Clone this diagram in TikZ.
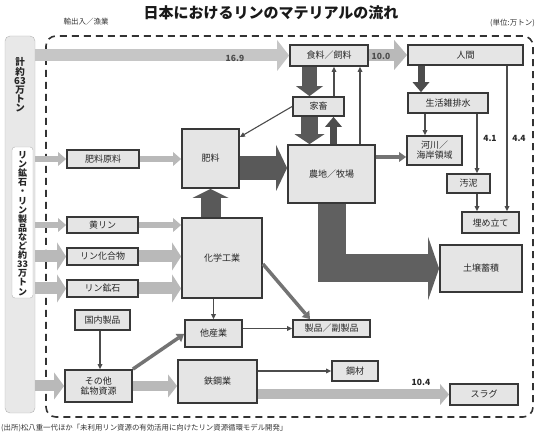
\documentclass[tikz,border=0pt]{standalone}
\usepackage{fontspec}
\newfontfamily\cjk{Noto Sans CJK JP}
\usetikzlibrary{arrows.meta}
\tikzset{
  box/.style={draw=black!78, line width=1.8pt, fill=gray!20, inner sep=0pt, align=center,
    font=\cjk\fontsize{9}{10}\selectfont, text=black!85},
  thinarrow/.style={draw=black!70, line width=1.1pt, -{Triangle[length=5pt,width=5pt,line width=0pt]}},
  medarrow/.style={draw=black!55, line width=3.5pt, -{Triangle[length=7pt,width=10pt,line width=0pt]}},
  barrow/.style n args={4}{draw=#4, line width=#1, line join=miter,
    -{Triangle[length=#3,width=#2,line width=0pt]}},
  num/.style={font=\cjk\bfseries\fontsize{8.5}{9}\selectfont, text=black!85, inner sep=0pt},
  vtext/.style={align=center, inner sep=0pt, text=black!85},
  small/.style={font=\cjk\fontsize{7.5}{8}\selectfont, text=black!80, inner sep=0pt}
}
\begin{document}
\begin{tikzpicture}[x=1pt,y=-1pt]
\useasboundingbox (0,0) rectangle (539,435);

% title and notes
\node[font=\cjk\bfseries\fontsize{15}{15}\selectfont, text=black!90] (title) at (271,13) {日本におけるリンのマテリアルの流れ};
\node[small] (trade) at (86,22) {輸出入／漁業};
\node[small, anchor=east] (unit) at (535,23) {(単位:万トン)};
\node[font=\cjk\fontsize{7.4}{8}\selectfont, text=black!80, inner sep=0pt, anchor=west] (source) at (1,428) {(出所)松八重一代ほか「未利用リン資源の有効活用に向けたリン資源循環モデル開発」};

% dashed system border
\draw[black!80, line width=1.6pt, dash pattern=on 7pt off 5pt, rounded corners=10pt] (46,36) rectangle (533,417);

% left source boxes
\node[draw=gray!60, fill=gray!18, rounded corners=5pt, minimum width=30pt, minimum height=377pt, inner sep=0pt] (src) at (20,224.5) {};
\node[draw=gray!60, fill=white, rounded corners=3pt, minimum width=21pt, minimum height=151pt, inner sep=0pt] (srcin) at (22.5,222.5) {};
\node[vtext, font=\cjk\bfseries\fontsize{9.5}{9}\selectfont] (total) at (20,85) {計\\約\\63\\万\\ト\\ン};
\node[vtext, font=\cjk\bfseries\fontsize{9}{9.1}\selectfont] (sub) at (22.5,223.5) {リ\\ン\\鉱\\石\\・\\リ\\ン\\製\\品\\な\\ど\\約\\33\\万\\ト\\ン};

% boxes
\node[box, minimum width=78pt, minimum height=21pt] (food) at (329,55.5) {食料／飼料};
\node[box, minimum width=115pt, minimum height=20pt] (ningen) at (465.5,55) {人間};
\node[box, minimum width=51pt, minimum height=19pt] (kachiku) at (318.5,106.5) {家畜};
\node[box, minimum width=57pt, minimum height=59pt] (hiryo) at (210.5,158.5) {肥料};
\node[box, minimum width=87pt, minimum height=58pt] (farm) at (331.5,174) {農地／牧場};
\node[box, minimum width=55pt, minimum height=29pt] (kasen) at (434.5,150.5) {河川／\\海岸領域};
\node[box, minimum width=80pt, minimum height=20pt] (seikatsu) at (448,103) {生活雑排水};
\node[box, minimum width=43pt, minimum height=19pt] (odei) at (468.5,183.5) {汚泥};
\node[box, minimum width=57pt, minimum height=21pt] (umetate) at (490.5,222.5) {埋め立て};
\node[box, minimum width=82pt, minimum height=47pt] (soil) at (481,268.5) {土壌蓄積};
\node[box, minimum width=80pt, minimum height=80pt] (chem) at (222,258) {化学工業};
\node[box, minimum width=72pt, minimum height=18pt] (genryo) at (103,159) {肥料原料};
\node[box, minimum width=71pt, minimum height=16pt] (kourin) at (102.5,225) {黄リン};
\node[box, minimum width=71pt, minimum height=17pt] (rinka) at (102.5,256.5) {リン化合物};
\node[box, minimum width=71pt, minimum height=17pt] (rinko) at (102.5,288.5) {リン鉱石};
\node[box, minimum width=55pt, minimum height=20pt] (kokunai) at (102.5,320) {国内製品};
\node[box, minimum width=67pt, minimum height=32pt] (sonota) at (98.5,386) {その他\\鉱物資源};
\node[box, minimum width=57pt, minimum height=27pt] (tasan) at (213.5,333.5) {他産業};
\node[box, minimum width=77pt, minimum height=17pt] (seihin) at (331.5,328.5) {製品／副製品};
\node[box, minimum width=79pt, minimum height=43pt] (tekko) at (217.5,381.5) {鉄鋼業};
\node[box, minimum width=46pt, minimum height=20pt] (kouzai) at (355,371) {鋼材};
\node[box, minimum width=68pt, minimum height=21pt] (slag) at (484,394.5) {スラグ};

% helper coordinates
\coordinate (r1) at (0,168);
\coordinate (xa) at (334,0);
\coordinate (xb) at (360,0);
\coordinate (ya) at (0,137);
\coordinate (yb) at (0,157);
\coordinate (xc) at (421,0);
\coordinate (xd) at (425,0);
\coordinate (xe) at (477,0);
\coordinate (xf) at (507,0);
\coordinate (yc) at (0,264);
\coordinate (xg) at (310,0);
\coordinate (xh) at (100,0);
\coordinate (yd) at (0,334);
\coordinate (xi) at (309.5,0);
\coordinate (xj) at (333.5,0);

% block arrows
\draw[barrow={12pt}{31pt}{12pt}{gray!45}] (src.east |- food.west) -- (food.west);
\draw[barrow={12pt}{30pt}{13pt}{gray!55}] (food.east |- ningen.west) -- (ningen.west);
\draw[barrow={15pt}{27pt}{10pt}{gray!70!black}] (food.south -| xi) -- (kachiku.north -| xi);
\draw[barrow={17pt}{30pt}{10pt}{gray!70!black}] (kachiku.south -| xi) -- (farm.north -| xi);
\draw[barrow={7pt}{17pt}{10pt}{gray!60!black}] (farm.north -| xj) -- (kachiku.south -| xj);
\draw[barrow={24pt}{46pt}{11pt}{gray!70!black}] (hiryo.east |- r1) -- (farm.west |- r1);
\draw[barrow={20pt}{36pt}{9pt}{gray!70!black}] (chem.north -| hiryo.south) -- (hiryo.south);
\draw[barrow={28pt}{63pt}{11pt}{gray!75!black}] (farm.south) |- (soil.west);
\draw[barrow={7pt}{17pt}{10pt}{gray!60!black}] (ningen.south -| xc) -- (seikatsu.north -| xc);
\draw[barrow={10pt}{21pt}{9pt}{gray!55}] (tekko.east |- slag.west) -- (slag.west);
\draw[barrow={10pt}{23pt}{9pt}{gray!55}] (sonota.east) -- (sonota.east -| tekko.west);
\draw[barrow={11pt}{27pt}{10pt}{gray!55}] (src.east |- sonota.west) -- (sonota.west);

% left inputs
\draw[barrow={6pt}{14pt}{8pt}{gray!55}] (src.east |- genryo.west) -- (genryo.west);
\draw[barrow={6pt}{14pt}{8pt}{gray!55}] (genryo.east) -- (hiryo.west |- genryo.east);
\draw[barrow={6pt}{14pt}{8pt}{gray!55}] (src.east |- kourin.west) -- (kourin.west);
\draw[barrow={6pt}{14pt}{8pt}{gray!55}] (kourin.east) -- (chem.west |- kourin.east);
\draw[barrow={12pt}{28pt}{9pt}{gray!55}] (src.east |- rinka.west) -- (rinka.west);
\draw[barrow={12pt}{28pt}{9pt}{gray!55}] (rinka.east) -- (chem.west |- rinka.east);
\draw[barrow={12pt}{28pt}{9pt}{gray!55}] (src.east |- rinko.west) -- (rinko.west);
\draw[barrow={12pt}{28pt}{9pt}{gray!55}] (rinko.east) -- (chem.west |- rinko.east);

% medium arrows
\draw[medarrow] (farm.east |- yb) -- (kasen.west |- yb);
\draw[medarrow] (chem.east |- yc) -- (seihin.north -| xg);
\draw[medarrow] (sonota.north east) -- (tasan.west |- yd);

% thin arrows
\draw[thinarrow] (kachiku.north -| xa) -- (food.south -| xa);
\draw[thinarrow] (farm.north -| xb) -- (food.south -| xb);
\draw[thinarrow] (kachiku.west) -- (hiryo.east |- ya);
\draw[thinarrow] (seikatsu.south -| xd) -- (kasen.north -| xd);
\draw[thinarrow, line width=1.6pt] (seikatsu.south -| xe) -- (odei.north -| xe);
\draw[thinarrow, line width=1.6pt] (odei.south -| xe) -- (umetate.north -| xe);
\draw[thinarrow, line width=1.6pt] (ningen.south -| xf) -- (umetate.north -| xf);
\draw[thinarrow] (chem.south -| tasan.north) -- (tasan.north);
\draw[thinarrow] (tasan.east |- seihin.west) -- (seihin.west);
\draw[thinarrow] (tekko.east |- kouzai.west) -- (kouzai.west);
\draw[thinarrow] (kokunai.south -| xh) -- (sonota.north -| xh);

% numbers
\node[num, text=black!70] (n169) at (235,58) {16.9};
\node[num, text=black!70] (n100) at (381,56) {10.0};
\node[num] (n41) at (490,138) {4.1};
\node[num] (n44) at (519,138) {4.4};
\node[num] (n104) at (421,382) {10.4};
\end{tikzpicture}
\end{document}
